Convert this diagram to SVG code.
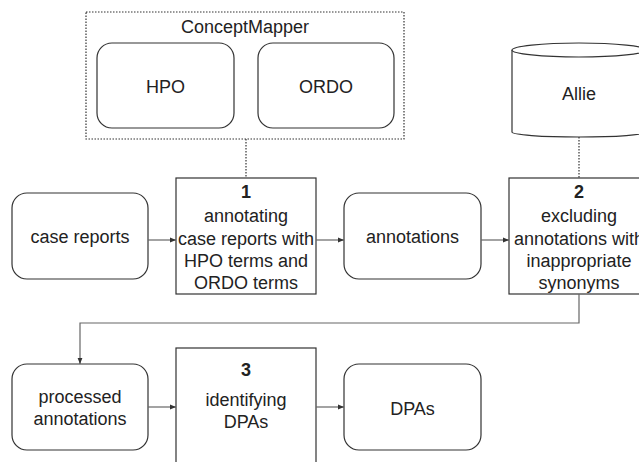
<svg xmlns="http://www.w3.org/2000/svg" width="639" height="462" viewBox="0 0 639 462">
<style>
text{font-family:"Liberation Sans",Arial,sans-serif;font-size:18px;fill:#222;text-anchor:middle}
.b{font-weight:bold}
.node{fill:#fff;stroke:#333;stroke-width:1.2}
.dot{fill:none;stroke:#333;stroke-width:1.2;stroke-dasharray:1.5 1.5}
.con{fill:none;stroke:#666;stroke-width:1.2}
</style>
<defs>
<marker id="ah" viewBox="0 0 10 10" refX="10" refY="5" markerWidth="6" markerHeight="6" orient="auto" markerUnits="userSpaceOnUse">
<path d="M0,1 L10,5 L0,9 z" fill="#333"/>
</marker>
</defs>
<g id="conceptmapper">
<rect class="dot" x="86" y="12" width="318" height="127"/>
<text x="245" y="33">ConceptMapper</text>
</g>
<g id="hpo">
<rect class="node" x="97" y="43" width="137" height="85" rx="15"/>
<text x="165.5" y="93">HPO</text>
</g>
<g id="ordo">
<rect class="node" x="258" y="43" width="136" height="85" rx="15"/>
<text x="326" y="93">ORDO</text>
</g>
<g id="allie">
<path class="node" d="M512,50 A67,7 0 0 1 646,50 L646,132 A67,5 0 0 1 512,132 Z"/>
<path class="node" d="M512,50 A67,7 0 0 0 646,50" fill="none"/>
<text x="579" y="100">Allie</text>
</g>
<g id="case-reports">
<rect class="node" x="12" y="193" width="136" height="86" rx="15"/>
<text x="80" y="243">case reports</text>
</g>
<g id="step1">
<rect class="node" x="176" y="178" width="140" height="116"/>
<text class="b" x="246" y="198">1</text>
<text x="246" y="222">annotating</text>
<text x="246" y="245">case reports with</text>
<text x="246" y="267">HPO terms and</text>
<text x="246" y="289">ORDO terms</text>
</g>
<g id="annotations">
<rect class="node" x="344" y="193" width="137" height="86" rx="15"/>
<text x="412.5" y="243">annotations</text>
</g>
<g id="step2">
<rect class="node" x="509" y="178" width="140" height="116"/>
<text class="b" x="579" y="198">2</text>
<text x="579" y="222">excluding</text>
<text x="579" y="245">annotations with</text>
<text x="579" y="267">inappropriate</text>
<text x="579" y="289">synonyms</text>
</g>
<g id="processed-annotations">
<rect class="node" x="12" y="364" width="136" height="86" rx="15"/>
<text x="80" y="403">processed</text>
<text x="80" y="425">annotations</text>
</g>
<g id="step3">
<rect class="node" x="176" y="348" width="140" height="130"/>
<text class="b" x="246" y="376">3</text>
<text x="246" y="406">identifying</text>
<text x="246" y="428">DPAs</text>
</g>
<g id="dpas">
<rect class="node" x="344" y="364" width="137" height="86" rx="15"/>
<text x="412.5" y="415">DPAs</text>
</g>
<g id="connectors">
<line class="dot" x1="246" y1="139" x2="246" y2="178"/>
<line class="dot" x1="579" y1="137" x2="579" y2="178"/>
<line class="con" x1="148" y1="240" x2="176" y2="240" marker-end="url(#ah)"/>
<line class="con" x1="316" y1="240" x2="344" y2="240" marker-end="url(#ah)"/>
<line class="con" x1="481" y1="240" x2="509" y2="240" marker-end="url(#ah)"/>
<path class="con" d="M579,294 V323 H80 V364" marker-end="url(#ah)"/>
<line class="con" x1="148" y1="407" x2="176" y2="407" marker-end="url(#ah)"/>
<line class="con" x1="316" y1="407" x2="344" y2="407" marker-end="url(#ah)"/>
</g>
</svg>
